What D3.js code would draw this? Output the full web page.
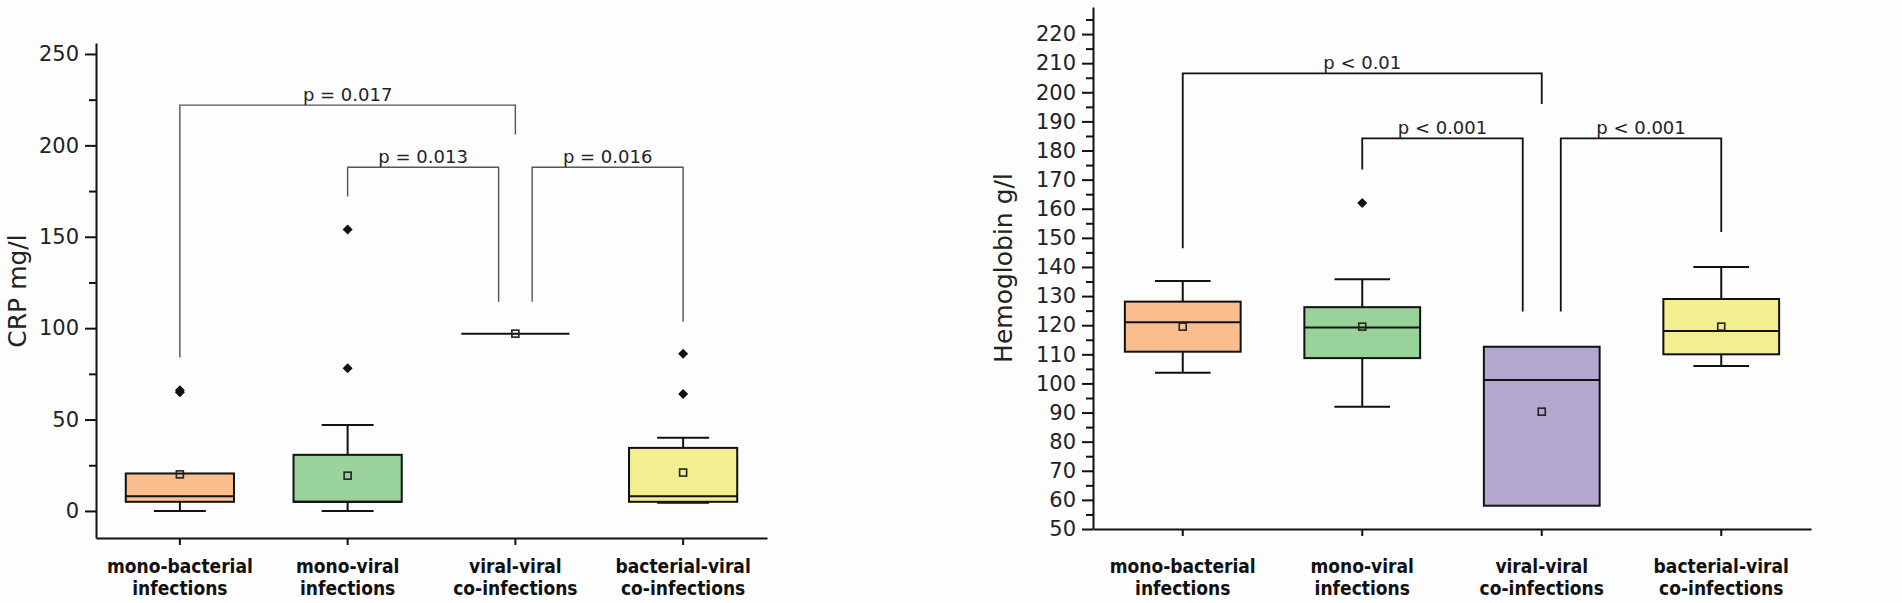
<!DOCTYPE html>
<html>
<head>
<meta charset="utf-8">
<script src="https://cdn.jsdelivr.net/npm/d3@7"></script>
<style>
  body { margin: 0; background: #fdfdfd; }
  svg { display: block; }
</style>
</head>
<body>
<svg id="svg"></svg>
<script>
// categories, two label lines each
const catLine1 = ["mono-bacterial", "mono-viral", "viral-viral", "bacterial-viral"];
const catLine2 = ["infections", "infections", "co-infections", "co-infections"];
const boxColors = ["#f9bd8e", "#9ad29c", "#b4a8d1", "#f3ee90"];

// CRP mg/l
const crpLow    = [0, 0, 97, 4.5];
const crpQ1     = [5, 5, 97, 5];
const crpMedian = [8, 5, 97, 8];
const crpQ3     = [20.5, 30.7, 97, 34.5];
const crpHigh   = [20.5, 47, 97, 40];
const crpMean   = [20, 19.3, 97, 21];
const crpOutliers = [[65, 66], [78, 154], [], [64, 86]];
const crpTicks = [0, 50, 100, 150, 200, 250];
const crpMinor = [25, 75, 125, 175, 225];

// p-value brackets for CRP
const crpPairs = [[0, 2], [1, 2], [2, 3]];
const crpTop   = [222, 188, 188];
const crpFootL = [84, 172, 114.5];
const crpFootR = [206, 114.5, 103.5];
const crpP     = ["p = 0.017", "p = 0.013", "p = 0.016"];

// Hemoglobin g/l
const hbLow    = [103.7, 92, 58, 106];
const hbQ1     = [110.9, 108.7, 58, 110];
const hbMedian = [121, 119.2, 101.2, 118];
const hbQ3     = [128.1, 126.2, 112.6, 129];
const hbHigh   = [135.2, 135.8, 112.6, 140];
const hbMean   = [119.5, 119.5, 90.3, 119.5];
const hbOutliers = [[], [162], [], []];
const hbTicks = d3.range(50, 221, 10);
const hbMinor = d3.range(55, 226, 10);

const hbPairs = [[0, 2], [1, 2], [2, 3]];
const hbTop   = [206.5, 184.2, 184.2];
const hbFootL = [146.4, 173.5, 124.7];
const hbFootR = [196, 124.7, 152];
const hbP     = ["p < 0.01", "p < 0.001", "p < 0.001"];

const W = 1902, H = 603;
const svg = d3.select("#svg").attr("width", W).attr("height", H);

// square diamond for outliers
const diamond = r => `M0,${-r}L${r},0L0,${r}L${-r},0Z`;

function drawChart(o) {
  const g = svg.append("g");
  const x = d3.scaleBand().domain(d3.range(4)).range(o.xRange).paddingInner(0).paddingOuter(0);
  const y = d3.scaleLinear().domain(o.yDomain).range(o.yRange);
  const cx = i => x(i) + x.bandwidth() / 2;
  const bw = x.bandwidth() * 0.645;
  const cw = x.bandwidth() * 0.31;

  // brackets
  const bg = g.append("g").attr("fill", "none").attr("stroke", o.brColor).attr("stroke-width", o.brWidth);
  o.pairs.forEach((p, k) => {
    let xa = cx(p[0]), xb = cx(p[1]);
    // brackets sharing the viral-viral group are nudged sideways
    if (k === 1) xb -= x.bandwidth() * o.nudge;
    if (k === 2) xa += x.bandwidth() * o.nudge;
    const path = d3.path();
    path.moveTo(xa, y(o.footL[k]));
    path.lineTo(xa, y(o.top[k]));
    path.lineTo(xb, y(o.top[k]));
    path.lineTo(xb, y(o.footR[k]));
    bg.append("path").attr("d", path.toString());
    g.append("text")
      .attr("x", (xa + xb) / 2).attr("y", y(o.top[k]) - 4)
      .attr("text-anchor", "middle")
      .attr("font-family", "DejaVu Sans").attr("font-size", 18).attr("fill", "#222")
      .text(o.labels[k]);
  });

  // boxes
  const boxes = g.append("g").selectAll("g").data(d3.range(4)).join("g");
  boxes.append("line")
    .attr("x1", cx).attr("x2", cx)
    .attr("y1", i => y(o.high[i])).attr("y2", i => y(o.q3[i]))
    .attr("stroke", "#111").attr("stroke-width", 2);
  boxes.append("line")
    .attr("x1", cx).attr("x2", cx)
    .attr("y1", i => y(o.low[i])).attr("y2", i => y(o.q1[i]))
    .attr("stroke", "#111").attr("stroke-width", 2);
  boxes.filter(i => o.high[i] > o.q3[i]).append("line")
    .attr("x1", i => cx(i) - cw / 2).attr("x2", i => cx(i) + cw / 2)
    .attr("y1", i => y(o.high[i])).attr("y2", i => y(o.high[i]))
    .attr("stroke", "#111").attr("stroke-width", 2);
  boxes.filter(i => o.low[i] < o.q1[i]).append("line")
    .attr("x1", i => cx(i) - cw / 2).attr("x2", i => cx(i) + cw / 2)
    .attr("y1", i => y(o.low[i])).attr("y2", i => y(o.low[i]))
    .attr("stroke", "#111").attr("stroke-width", 2);
  boxes.append("rect")
    .attr("x", i => cx(i) - bw / 2).attr("width", bw)
    .attr("y", i => y(o.q3[i])).attr("height", i => y(o.q1[i]) - y(o.q3[i]))
    .attr("fill", i => boxColors[i]).attr("stroke", "#111").attr("stroke-width", 2);
  boxes.append("line")
    .attr("x1", i => cx(i) - bw / 2).attr("x2", i => cx(i) + bw / 2)
    .attr("y1", i => y(o.median[i])).attr("y2", i => y(o.median[i]))
    .attr("stroke", "#111").attr("stroke-width", 2);
  boxes.append("rect")
    .attr("x", i => cx(i) - 3.5).attr("y", i => y(o.mean[i]) - 3.5)
    .attr("width", 7).attr("height", 7)
    .attr("fill", "none").attr("stroke", "#222").attr("stroke-width", 1.6);
  boxes.selectAll("path.out")
    .data(i => o.outliers[i].map(v => [i, v]))
    .join("path").attr("class", "out")
    .attr("transform", d => `translate(${cx(d[0])},${y(d[1])})`)
    .attr("d", diamond(5))
    .attr("fill", "#111");

  // axes
  const yAxis = g.append("g").attr("transform", `translate(${o.xRange[0]},0)`)
    .call(d3.axisLeft(y).tickValues(o.ticks).tickSize(11).tickSizeOuter(0).tickPadding(6));
  g.append("g").attr("transform", `translate(${o.xRange[0]},0)`)
    .call(d3.axisLeft(y).tickValues(o.minor).tickSize(7).tickSizeOuter(0).tickFormat(""))
    .call(a => a.select(".domain").remove());
  yAxis.selectAll("text").attr("font-family", "DejaVu Sans").attr("font-size", o.tickFont).attr("fill", "#222");
  g.selectAll(".tick line, .domain").attr("stroke", "#111").attr("stroke-width", 2);

  const xAxis = g.append("g").attr("transform", `translate(0,${o.yRange[0]})`)
    .call(d3.axisBottom(x).tickSize(7).tickSizeOuter(0).tickFormat(""));
  xAxis.selectAll(".tick").attr("transform", i => `translate(${cx(i)},0)`);
  xAxis.selectAll(".tick line, .domain").attr("stroke", "#111").attr("stroke-width", 2);

  const lab = g.append("g")
    .attr("font-family", "DejaVu Sans Condensed, DejaVu Sans").attr("font-weight", "bold")
    .attr("font-size", 19).attr("text-anchor", "middle").attr("fill", "#111");
  d3.range(4).forEach(i => {
    lab.append("text").attr("x", cx(i)).attr("y", 573).text(catLine1[i]);
    lab.append("text").attr("x", cx(i)).attr("y", 595).text(catLine2[i]);
  });

  g.append("text")
    .attr("transform", `translate(${o.titleX},${o.titleY}) rotate(-90)`)
    .attr("text-anchor", "middle")
    .attr("font-family", "DejaVu Sans").attr("font-size", 25).attr("fill", "#222")
    .text(o.title);
}

drawChart({
  xRange: [96, 767], yDomain: [-14.8, 256], yRange: [538, 43],
  low: crpLow, q1: crpQ1, median: crpMedian, q3: crpQ3, high: crpHigh, mean: crpMean,
  outliers: crpOutliers, ticks: crpTicks, minor: crpMinor, tickFont: 21,
  pairs: crpPairs, top: crpTop, footL: crpFootL, footR: crpFootR, labels: crpP,
  brColor: "#555", brWidth: 1.4, nudge: 0.1,
  title: "CRP mg/l", titleX: 26, titleY: 291
});

drawChart({
  xRange: [1093, 1811], yDomain: [50, 229.3], yRange: [529, 7],
  low: hbLow, q1: hbQ1, median: hbMedian, q3: hbQ3, high: hbHigh, mean: hbMean,
  outliers: hbOutliers, ticks: hbTicks, minor: hbMinor, tickFont: 21,
  pairs: hbPairs, top: hbTop, footL: hbFootL, footR: hbFootR, labels: hbP,
  brColor: "#111", brWidth: 1.8, nudge: 0.106,
  title: "Hemoglobin g/l", titleX: 1012, titleY: 268
});
</script>
</body>
</html>
